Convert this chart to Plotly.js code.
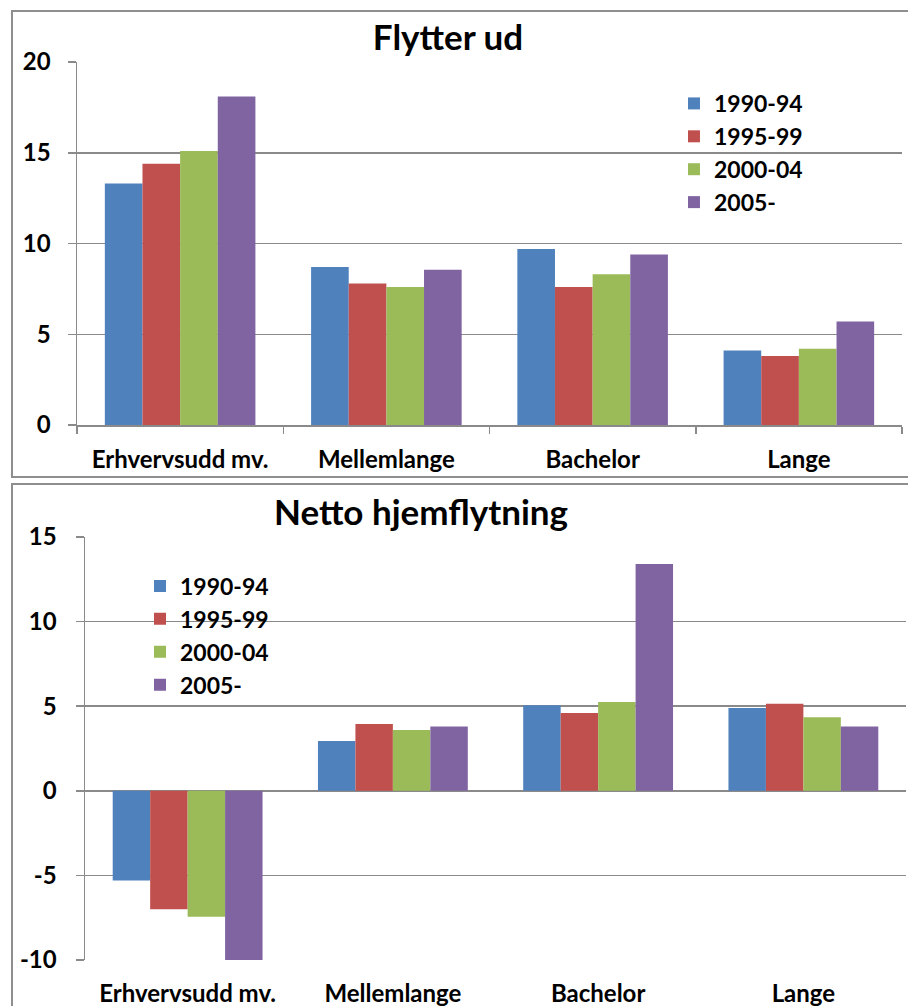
<!DOCTYPE html>
<html>
<head>
<meta charset="utf-8">
<script src="https://cdn.plot.ly/plotly-3.0.1.min.js"></script>
<style>
  html, body { margin: 0; padding: 0; background: #ffffff; width: 908px; height: 1006px; overflow: hidden; }
  #top { position: absolute; left: 0; top: 0; width: 908px; height: 480px; }
  #bottom { position: absolute; left: 0; top: 480px; width: 908px; height: 526px; }
  .frame { position: absolute; border: 2px solid #8e8e8e; pointer-events: none; box-sizing: border-box; }
  #frame1 { left: 11px; top: 10px; width: 920px; height: 468px; }
  #frame2 { left: 11px; top: 483px; width: 920px; height: 540px; }
</style>
</head>
<body>
<div id="top"></div>
<div id="bottom"></div>
<div class="frame" id="frame1"></div>
<div class="frame" id="frame2"></div>
<script>
// ---- Data ----
const categories = ["Erhvervsudd mv.", "Mellemlange", "Bachelor", "Lange"];
const seriesNames = ["1990-94", "1995-99", "2000-04", "2005-"];
const seriesColors = ["#4F81BD", "#C0504D", "#9BBB59", "#8064A2"];

// Flytter ud
const flytterUd_1990_94 = [13.3, 8.7, 9.7, 4.1];
const flytterUd_1995_99 = [14.4, 7.8, 7.6, 3.8];
const flytterUd_2000_04 = [15.1, 7.6, 8.3, 4.2];
const flytterUd_2005 = [18.1, 8.55, 9.4, 5.7];

// Netto hjemflytning
const netto_1990_94 = [-5.3, 2.95, 5.05, 4.9];
const netto_1995_99 = [-7.0, 3.95, 4.6, 5.15];
const netto_2000_04 = [-7.45, 3.6, 5.25, 4.35];
const netto_2005 = [-10.1, 3.8, 13.4, 3.8];

const topTicks = [0, 5, 10, 15, 20];
const topTickLabels = ["0", "5", "10", "15", "20"];
const bottomTicks = [-10, -5, 0, 5, 10, 15];
const bottomTickLabels = ["-10", "-5", "0", "5", "10", "15"];

// ---- Styling ----
const FONT = "Lato, 'Open Sans', sans-serif";
const GRID = "#8a8a8a";
const tickFont = { family: FONT, size: 24, color: "#000", weight: 700 };
const legendFont = { family: FONT, size: 23, color: "#000", weight: 700 };
const titleFont = { family: FONT, size: 35, color: "#000", weight: 700 };

function makeTraces(seriesList) {
  return seriesList.map((vals, i) => ({
    type: "bar",
    x: categories,
    y: vals,
    name: seriesNames[i],
    marker: { color: seriesColors[i], line: { width: 0 } },
    hoverinfo: "skip"
  }));
}

// ---- Top chart ----
const topTraces = makeTraces([flytterUd_1990_94, flytterUd_1995_99, flytterUd_2000_04, flytterUd_2005]);
const topLayout = {
  width: 908, height: 480,
  margin: { l: 77, r: 6, t: 62, b: 55 },
  paper_bgcolor: "rgba(0,0,0,0)",
  plot_bgcolor: "rgba(0,0,0,0)",
  barmode: "group",
  bargap: 0.27,
  bargroupgap: 0,
  title: {
    text: "Flytter ud",
    font: titleFont,
    x: 448 / 908, xanchor: "center",
    y: 1 - 38 / 480, yanchor: "middle",
    xref: "container", yref: "container"
  },
  showlegend: true,
  legend: {
    x: 0.7236, xanchor: "left",
    y: 0.945, yanchor: "top",
    font: legendFont,
    bgcolor: "rgba(0,0,0,0)"
  },
  xaxis: {
    type: "category",
    showline: true, linecolor: GRID, linewidth: 1.5,
    ticks: "outside", tickson: "boundaries", ticklen: 7, tickcolor: GRID, tickwidth: 1.5,
    tickfont: tickFont,
    ticklabelstandoff: 13,
    showgrid: false, zeroline: false
  },
  yaxis: {
    range: [0, 20],
    tickvals: topTicks,
    ticktext: topTickLabels,
    showline: true, linecolor: GRID, linewidth: 1.5,
    ticks: "outside", ticklen: 8, tickcolor: GRID, tickwidth: 1.5,
    showgrid: true, gridcolor: GRID, gridwidth: 1.5,
    zeroline: false,
    tickfont: tickFont,
    ticklabelstandoff: 12
  }
};

// ---- Bottom chart ----
const bottomTraces = makeTraces([netto_1990_94, netto_1995_99, netto_2000_04, netto_2005]);
const yMin = bottomTicks[0], yMax = bottomTicks[bottomTicks.length - 1];
const bottomLayout = {
  width: 908, height: 526,
  margin: { l: 85, r: 2, t: 57, b: 46 },
  paper_bgcolor: "rgba(0,0,0,0)",
  plot_bgcolor: "rgba(0,0,0,0)",
  barmode: "group",
  bargap: 0.27,
  bargroupgap: 0,
  title: {
    text: "Netto hjemflytning",
    font: titleFont,
    x: 421 / 908, xanchor: "center",
    y: 1 - 33 / 526, yanchor: "middle",
    xref: "container", yref: "container"
  },
  showlegend: true,
  legend: {
    x: 0.067, xanchor: "left",
    y: 0.935, yanchor: "top",
    font: legendFont,
    bgcolor: "rgba(0,0,0,0)"
  },
  xaxis: {
    type: "category",
    showline: false,
    ticks: "",
    tickfont: tickFont,
    ticklabelstandoff: 17,
    showgrid: false, zeroline: false
  },
  xaxis2: {
    overlaying: "x",
    anchor: "free",
    position: (0 - yMin) / (yMax - yMin),
    range: [-0.5, categories.length - 0.5],
    tickvals: categories.map((c, i) => i - 0.5).concat([categories.length - 0.5]),
    showticklabels: false,
    showline: true, linecolor: GRID, linewidth: 1.5,
    ticks: "outside", ticklen: 7, tickcolor: GRID, tickwidth: 1.5,
    showgrid: false, zeroline: false
  },
  yaxis: {
    range: [yMin, yMax],
    tickvals: bottomTicks,
    ticktext: bottomTickLabels,
    showline: true, linecolor: GRID, linewidth: 1.5,
    ticks: "outside", ticklen: 8, tickcolor: GRID, tickwidth: 1.5,
    showgrid: true, gridcolor: GRID, gridwidth: 1.5,
    zeroline: false,
    tickfont: tickFont,
    ticklabelstandoff: 14
  }
};

Plotly.newPlot("top", topTraces, topLayout, { staticPlot: true, displayModeBar: false });
Plotly.newPlot("bottom", bottomTraces, bottomLayout, { staticPlot: true, displayModeBar: false });
</script>
</body>
</html>
